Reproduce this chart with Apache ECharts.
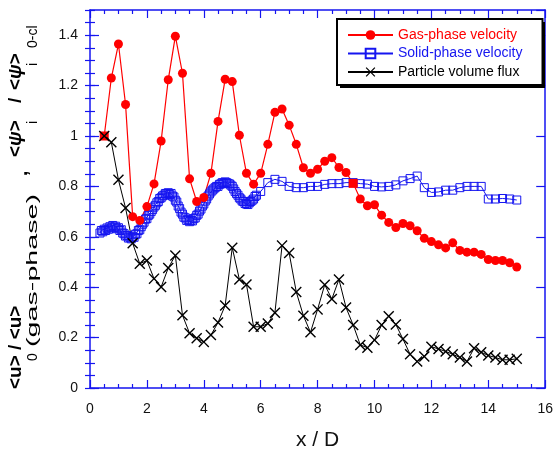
<!DOCTYPE html>
<html><head><meta charset="utf-8">
<script src="https://cdn.jsdelivr.net/npm/echarts@6/dist/echarts.min.js"></script>
<style>html,body{margin:0;padding:0;background:#fff}#c{width:556px;height:456px}</style>
</head><body><div id="c"></div>
<script>
// ---- data ----
const gasX = [0.5,0.75,1.0,1.25,1.5,1.75,2.0,2.25,2.5,2.75,3.0,3.25,3.5,3.75,4.0,4.25,4.5,4.75,5.0,5.25,5.5,5.75,6.0,6.25,6.5,6.75,7.0,7.25,7.5,7.75,8.0,8.25,8.5,8.75,9.0,9.25,9.5,9.75,10.0,10.25,10.5,10.75,11.0,11.25,11.5,11.75,12.0,12.25,12.5,12.75,13.0,13.25,13.5,13.75,14.0,14.25,14.5,14.75,15.0];
const gasY = [1.00,1.23,1.365,1.125,0.68,0.665,0.72,0.81,0.98,1.223,1.396,1.249,0.83,0.74,0.756,0.852,1.058,1.225,1.216,1.003,0.852,0.809,0.852,0.967,1.094,1.107,1.043,0.967,0.874,0.852,0.868,0.90,0.914,0.875,0.855,0.812,0.75,0.723,0.727,0.686,0.657,0.637,0.653,0.644,0.624,0.594,0.581,0.568,0.556,0.576,0.546,0.539,0.539,0.53,0.51,0.506,0.506,0.497,0.48];
const gasSquareX = [0.5, 9.25];

const solidX = [0.35,0.4,0.45,0.5,0.55,0.6,0.65,0.7,0.75,0.8,0.85,0.9,0.95,1.0,1.05,1.1,1.15,1.2,1.25,1.3,1.35,1.4,1.45,1.5,1.55,1.6,1.65,1.7,1.75,1.8,1.85,1.9,1.95,2.0,2.05,2.1,2.15,2.2,2.25,2.3,2.35,2.4,2.45,2.5,2.55,2.6,2.65,2.7,2.75,2.8,2.85,2.9,2.95,3.0,3.05,3.1,3.15,3.2,3.25,3.3,3.35,3.4,3.45,3.5,3.55,3.6,3.65,3.7,3.75,3.8,3.85,3.9,3.95,4.0,4.05,4.1,4.15,4.2,4.25,4.3,4.35,4.4,4.45,4.5,4.55,4.6,4.65,4.7,4.75,4.8,4.85,4.9,4.95,5.0,5.05,5.1,5.15,5.2,5.25,5.3,5.35,5.4,5.45,5.5,5.55,5.6,5.65,5.7,5.75,5.8,5.85,6.0,6.25,6.5,6.75,7.0,7.25,7.5,7.75,8.0,8.25,8.5,8.75,9.0,9.25,9.5,9.75,10.0,10.25,10.5,10.75,11.0,11.25,11.5,11.75,12.0,12.25,12.5,12.75,13.0,13.25,13.5,13.75,14.0,14.25,14.5,14.75,15.0];
const solidY = [0.615,0.625,0.62,0.63,0.625,0.635,0.63,0.64,0.635,0.645,0.638,0.642,0.632,0.636,0.625,0.628,0.615,0.612,0.603,0.605,0.595,0.598,0.592,0.60,0.598,0.61,0.612,0.625,0.628,0.64,0.65,0.658,0.67,0.672,0.685,0.69,0.70,0.708,0.718,0.725,0.735,0.74,0.752,0.755,0.762,0.765,0.772,0.77,0.775,0.768,0.772,0.762,0.758,0.745,0.738,0.722,0.712,0.698,0.69,0.678,0.675,0.665,0.668,0.66,0.665,0.663,0.672,0.675,0.685,0.69,0.702,0.71,0.722,0.73,0.742,0.75,0.762,0.77,0.778,0.785,0.79,0.795,0.80,0.80,0.808,0.81,0.815,0.812,0.818,0.815,0.812,0.81,0.805,0.80,0.79,0.78,0.772,0.765,0.755,0.75,0.742,0.74,0.732,0.73,0.728,0.735,0.74,0.745,0.75,0.76,0.765,0.78,0.815,0.828,0.82,0.80,0.795,0.795,0.80,0.80,0.808,0.811,0.811,0.815,0.815,0.811,0.809,0.80,0.798,0.80,0.806,0.822,0.831,0.841,0.795,0.776,0.778,0.785,0.785,0.795,0.80,0.80,0.80,0.75,0.75,0.752,0.75,0.746];

const fluxX = gasX;
const fluxY = [1.0,0.975,0.826,0.714,0.574,0.493,0.506,0.434,0.401,0.476,0.526,0.289,0.217,0.197,0.183,0.21,0.26,0.327,0.557,0.431,0.411,0.243,0.243,0.256,0.299,0.565,0.536,0.381,0.287,0.221,0.312,0.41,0.353,0.431,0.319,0.25,0.171,0.16,0.19,0.25,0.285,0.252,0.194,0.134,0.105,0.125,0.164,0.155,0.145,0.134,0.121,0.105,0.158,0.142,0.129,0.121,0.112,0.112,0.116];

const xTickLabels = ['0','2','4','6','8','10','12','14','16'];
const yTickLabels = ['0','0.2','0.4','0.6','0.8','1','1.2','1.4'];
const seriesNames = ['Gas-phase velocity','Solid-phase velocity','Particle volume flux'];

// ---- chart ----
const FF = '"Liberation Sans", Arial, Helvetica, sans-serif';
const BLUE = '#1515f0';
const RED = '#ff0000';
const XSYM = 'path://M0,0.9L0.9,0L5,4.1L9.1,0L10,0.9L5.9,5L10,9.1L9.1,10L5,5.9L0.9,10L0,9.1L4.1,5Z';

const pair = (xs, ys) => xs.map((x, i) => [x, ys[i]]);
const gasData = gasX.map((x, i) => gasSquareX.includes(x) ? {value: [x, gasY[i]], symbol: 'rect'} : [x, gasY[i]]);

const xAxisBase = {
  type: 'value', min: 0, max: 16, interval: 2,
  axisLine: {show: true, onZero: false, lineStyle: {color: BLUE, width: 1.5}},
  axisTick: {show: true, inside: true, length: 8, lineStyle: {color: BLUE, width: 1.2}},
  minorTick: {show: true, splitNumber: 4, length: 4, lineStyle: {color: BLUE, width: 1.2}},
  splitLine: {show: false}
};
const yMajor = {
  type: 'value', min: 0, max: 1.5, interval: 0.2,
  axisLine: {show: true, onZero: false, lineStyle: {color: BLUE, width: 1.5}},
  axisTick: {show: true, inside: true, length: 9, lineStyle: {color: BLUE, width: 1.2}},
  splitLine: {show: false}
};
const yMinor = {
  type: 'value', min: 0, max: 1.5, interval: 0.05,
  axisLine: {show: false},
  axisTick: {show: true, inside: true, length: 5, lineStyle: {color: BLUE, width: 1.2}},
  axisLabel: {show: false},
  splitLine: {show: false}
};

const txt = (x, y, text, font, extra) => Object.assign({
  type: 'text', x: x, y: y, rotation: Math.PI / 2, z: 10,
  style: {text: text, font: font, fill: '#000', textAlign: 'left', textVerticalAlign: 'middle'}
}, extra || {});
const BIG = 'bold 19px ' + FF;
const SMALL = '14px ' + FF;
const psiRich = {rich: {it: {fontStyle: 'italic', fontWeight: 'bold', fontSize: 19, fontFamily: FF}}};

const option = {
  backgroundColor: '#fff',
  animation: false,
  grid: {left: 90, right: 10, top: 10, bottom: 66},
  legend: {
    orient: 'vertical', left: 337, top: 19, z: 6,
    padding: [9, 20, 6, 10],
    itemWidth: 45, itemHeight: 12, itemGap: 4.5,
    backgroundColor: '#fff', borderColor: '#000', borderWidth: 2, borderRadius: 0,
    textStyle: {fontFamily: FF, fontSize: 14, lineHeight: 14},
    data: [
      {name: seriesNames[0], textStyle: {color: RED}},
      {name: seriesNames[1], textStyle: {color: BLUE}},
      {name: seriesNames[2], textStyle: {color: '#000'}}
    ]
  },
  xAxis: [
    Object.assign({}, xAxisBase, {
      position: 'bottom',
      axisLabel: {show: true, margin: 14, color: '#111', fontFamily: FF, fontSize: 14,
        formatter: v => xTickLabels[Math.round(v / 2)] ?? ''},
      name: 'x / D', nameLocation: 'middle', nameGap: 42,
      nameTextStyle: {color: '#111', fontFamily: FF, fontSize: 21}
    }),
    Object.assign({}, xAxisBase, {position: 'top', axisLabel: {show: false}})
  ],
  yAxis: [
    Object.assign({}, yMajor, {
      position: 'left',
      axisLabel: {show: true, margin: 12, color: '#111', fontFamily: FF, fontSize: 14, showMaxLabel: false,
        formatter: v => yTickLabels[Math.round(v / 0.2)] ?? ''}
    }),
    Object.assign({}, yMinor, {position: 'left'}),
    Object.assign({}, yMajor, {position: 'right', axisLabel: {show: false}}),
    Object.assign({}, yMinor, {position: 'right'})
  ],
  graphic: [
    {type: 'rect', z: 5, shape: {x: 340, y: 22, width: 205, height: 66}, style: {fill: '#000'}},
    txt(16, 389, '<u> / <u>', BIG),
    txt(33, 361, '0', SMALL),
    txt(33, 347, '(gas-phase)', SMALL, {scaleX: 2.05}),
    txt(22, 176, ',', BIG),
    txt(16, 157, '<{it|ψ}>', BIG, {style: Object.assign({text: '<{it|ψ}>', font: BIG, fill: '#000', textAlign: 'left', textVerticalAlign: 'middle'}, psiRich)}),
    txt(33, 124, 'i', SMALL),
    txt(16, 103, '/', BIG),
    txt(16, 90, '<{it|ψ}>', BIG, {style: Object.assign({text: '<{it|ψ}>', font: BIG, fill: '#000', textAlign: 'left', textVerticalAlign: 'middle'}, psiRich)}),
    txt(33, 66, 'i', SMALL),
    txt(33, 48, '0-cl', SMALL)
  ],
  series: [
    {
      name: seriesNames[1], type: 'line', xAxisIndex: 0, yAxisIndex: 0,
      data: pair(solidX, solidY),
      symbol: 'rect', symbolSize: 8, showAllSymbol: true,
      lineStyle: {color: BLUE, width: 1},
      itemStyle: {color: 'rgba(255,255,255,0)', borderColor: BLUE, borderWidth: 1}
    },
    {
      name: seriesNames[0], type: 'line', xAxisIndex: 0, yAxisIndex: 0,
      data: gasData,
      symbol: 'circle', symbolSize: 9, showAllSymbol: true,
      lineStyle: {color: RED, width: 1.2},
      itemStyle: {color: RED}
    },
    {
      name: seriesNames[2], type: 'line', xAxisIndex: 0, yAxisIndex: 0,
      data: pair(fluxX, fluxY),
      symbol: XSYM, symbolSize: 11, showAllSymbol: true,
      lineStyle: {color: '#000', width: 1},
      itemStyle: {color: '#000'}
    }
  ]
};
const chart = echarts.init(document.getElementById('c'), null, {renderer: 'canvas'});
chart.setOption(option);
</script>
</body></html>
